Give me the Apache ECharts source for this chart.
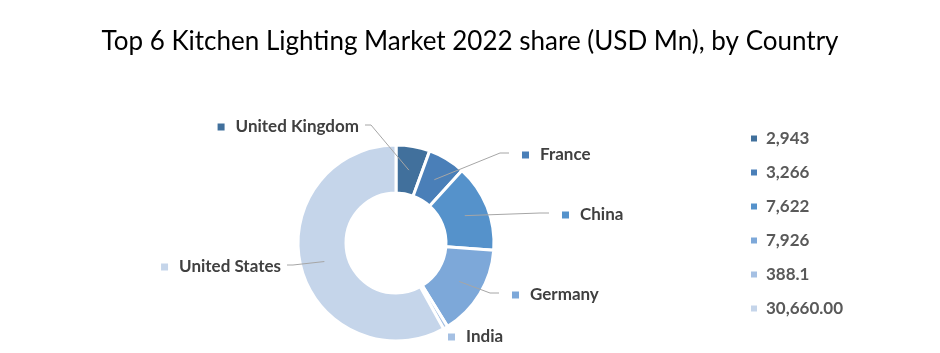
<!DOCTYPE html>
<html>
<head>
<meta charset="utf-8">
<script src="https://cdn.jsdelivr.net/npm/echarts@6/dist/echarts.min.js"></script>
<style>
  html, body { margin: 0; padding: 0; background: #fff; }
  #chart { width: 940px; height: 353px; }
</style>
</head>
<body>
<div id="chart"></div>
<script>
const countries = ["United Kingdom", "France", "China", "Germany", "India", "United States"];
const values = [2943, 3266, 7622, 7926, 388.1, 30660];
const valueLabels = ["2,943", "3,266", "7,622", "7,926", "388.1", "30,660.00"];
const colors = ["#41709C", "#4A7FB8", "#5592CB", "#7DA8D9", "#A5C0E3", "#C5D5EA"];

// label anchor spots around the donut (x, y, align)
const labelSpots = [
  [359, 127, "right"],
  [522, 155, "left"],
  [562, 215, "left"],
  [512, 295, "left"],
  [448, 337, "left"],
  [281, 267, "right"]
];

const cx = 396, cy = 243, r0 = 50, r1 = 98;
const total = values.reduce((a, b) => a + b, 0);
// mid angle (radians, clockwise from top) of each slice
const midAngles = [];
let acc = 0;
values.forEach((v) => {
  midAngles.push(((acc + v / 2) / total) * Math.PI * 2);
  acc += v;
});

const chart = echarts.init(document.getElementById("chart"));

const labelRich = {};
colors.forEach((c, i) => {
  labelRich["m" + i] = { width: 7, height: 7, backgroundColor: c };
});
labelRich.t = { fontFamily: "Lato", fontWeight: "bold", fontSize: 17, color: "#404040", padding: [0, 0, 0, 11] };

const pieData = countries.map((c, i) => ({ name: c, value: values[i] }));

chart.setOption({
  animation: false,
  color: colors,
  title: {
    text: "Top 6 Kitchen Lighting Market 2022 share (USD Mn), by Country",
    left: "center",
    top: 24,
    textStyle: { fontFamily: "Lato", fontWeight: "normal", fontSize: 26, color: "#000" }
  },
  legend: {
    orient: "vertical",
    left: 744,
    top: 125,
    itemGap: 17,
    itemWidth: 8,
    itemHeight: 8,
    icon: "rect",
    data: countries,
    formatter: (name) => valueLabels[countries.indexOf(name)],
    textStyle: { fontFamily: "Lato", fontWeight: "bold", fontSize: 17, color: "#595959", padding: [0, 0, 0, 3] }
  },
  series: [
    {
      type: "pie",
      center: [cx, cy],
      radius: [r0, r1],
      startAngle: 90,
      clockwise: true,
      itemStyle: { borderColor: "#fff", borderWidth: 3 },
      label: { show: false },
      labelLine: { show: false },
      data: pieData
    },
    {
      // transparent overlay that only carries labels + leader lines above the ring
      type: "pie",
      z: 5,
      silent: true,
      center: [cx, cy],
      radius: [r0, r1],
      startAngle: 90,
      clockwise: true,
      itemStyle: { color: "rgba(0,0,0,0)", borderWidth: 0 },
      label: {
        show: true,
        position: "outside",
        formatter: (p) => `{m${p.dataIndex}|}{t|${p.name}}`,
        rich: labelRich
      },
      labelLine: {
        show: true,
        length: 20,
        length2: 8,
        lineStyle: { color: "#A6A6A6", width: 1 }
      },
      labelLayout: (p) => {
        const i = p.dataIndex;
        const s = labelSpots[i];
        const a = midAngles[i];
        const rm = (r0 + r1) / 2;
        const start = [cx + rm * Math.sin(a), cy - rm * Math.cos(a)];
        const right = s[2] === "left";
        const endX = right ? s[0] - 13 : s[0] + 6;
        const endY = s[1] - 2;
        const elbow = [right ? endX - 9 : endX + 6, endY];
        return {
          x: s[0], y: s[1], align: s[2], verticalAlign: "middle",
          labelLinePoints: [start, elbow, [endX, endY]]
        };
      },
      data: countries.map((c, i) => ({
        name: c,
        value: values[i],
        labelLine: { show: c !== "India" }
      }))
    }
  ]
});
</script>
</body>
</html>
